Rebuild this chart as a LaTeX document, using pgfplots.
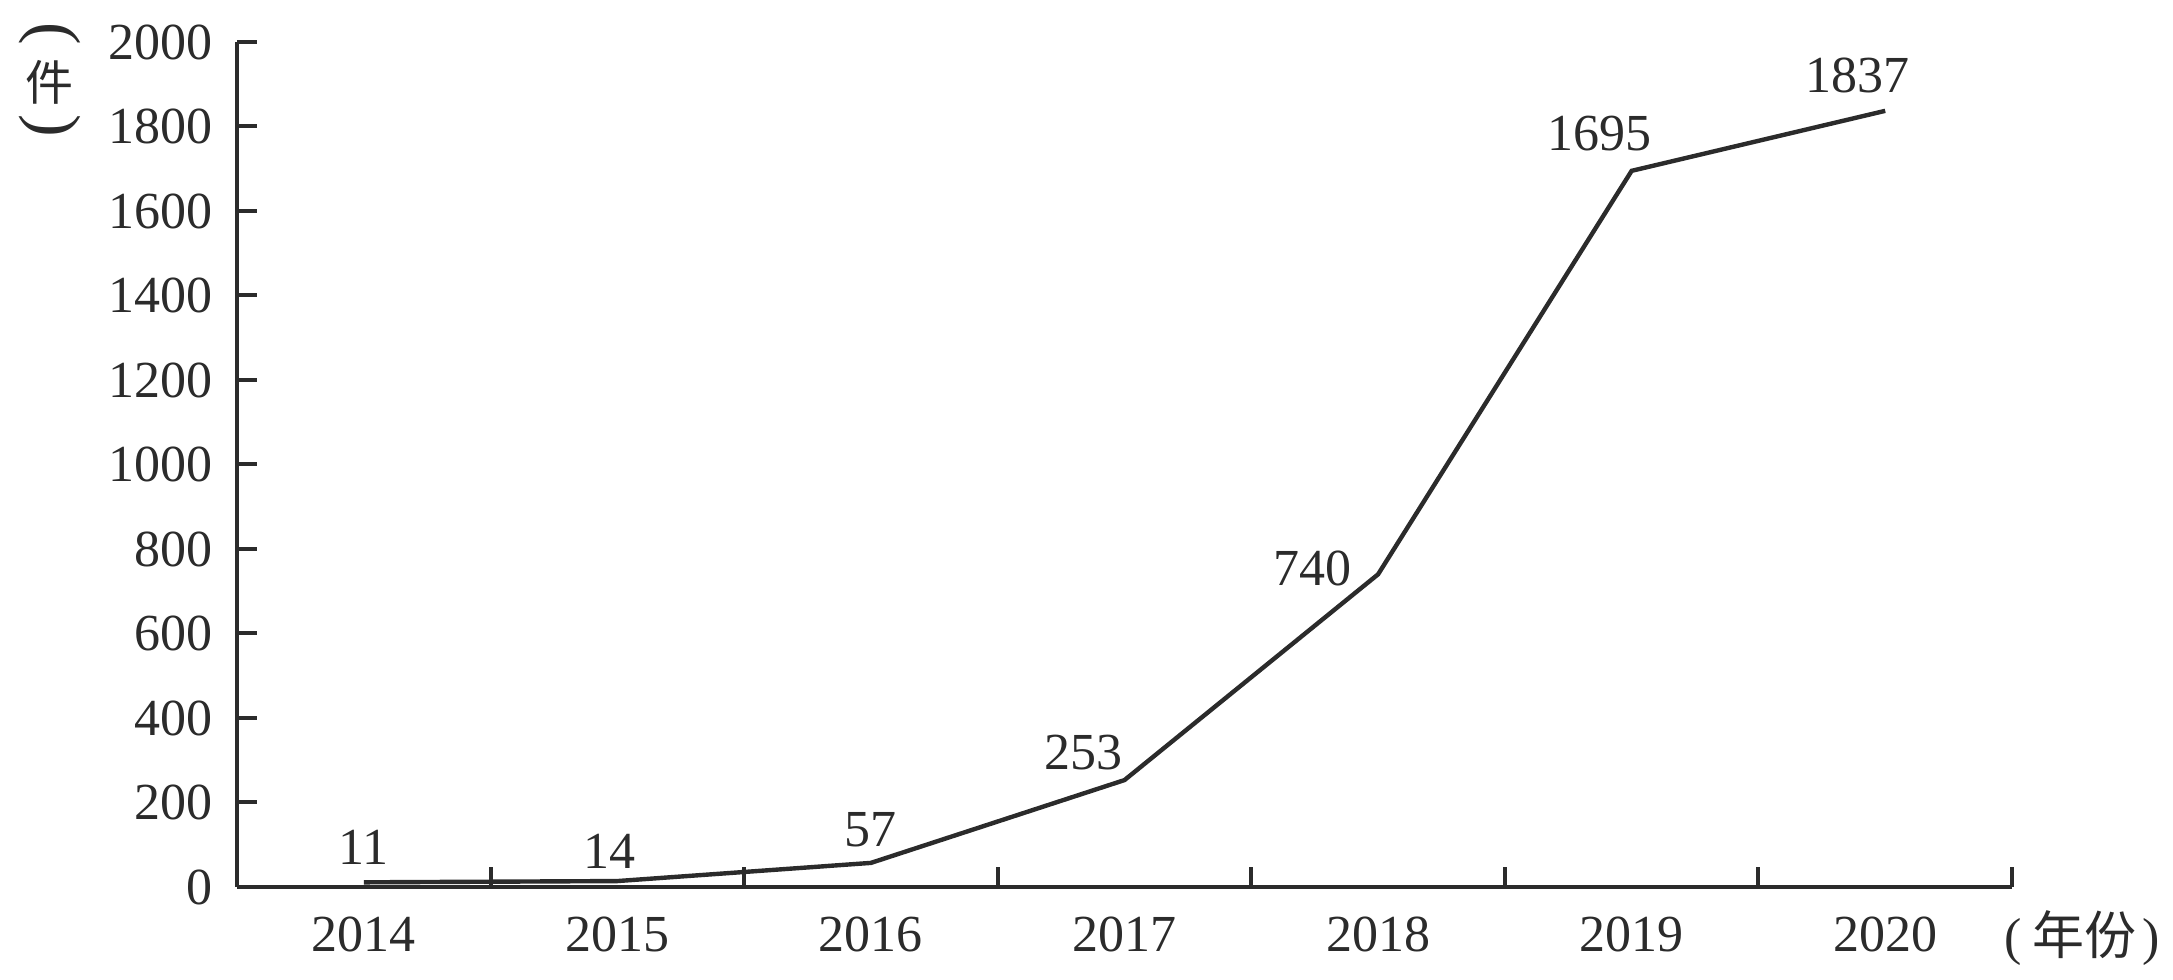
\documentclass[border=0pt]{standalone}
\usepackage{fontspec}
\usepackage{graphicx}
\setmainfont{Liberation Serif}
\newfontfamily\cjk{Noto Sans CJK SC}
\usepackage{pgfplots}
\pgfplotsset{compat=1.18}
\definecolor{ink}{HTML}{2B2B2B}
\begin{document}
\fontsize{13}{15}\selectfont
\begin{tikzpicture}[every node/.style={text=ink}]
\useasboundingbox (-59.25pt,-23.25pt) rectangle (484pt,221.75pt);
\begin{axis}[
  scale only axis, width=443.75pt, height=211.25pt,
  axis lines*=left,
  xmin=-0.5, xmax=6.5, ymin=0, ymax=2000,
  xtick={0,...,6}, xticklabels={2014,2015,2016,2017,2018,2019,2020},
  ytick={0,200,...,2000},
  minor xtick={0.5,1.5,...,6.5},
  tick align=inside,
  major tick length=5pt, minor tick length=5pt,
  major x tick style={draw=none},
  minor x tick style={draw=ink, line width=1pt},
  major y tick style={draw=ink, line width=1pt},
  axis line style={ink, line width=1.1pt},
  tick label style={font=\fontsize{13}{15}\selectfont, text=ink},
  /pgf/number format/assume math mode=true,
  /pgf/number format/1000 sep={},
  xticklabel style={yshift=-3pt},
  yticklabel style={xshift=-1.5pt},
  clip=false,
]
\addplot[ink, line width=1.1pt] coordinates {(0,11)(1,14)(2,57)(3,253)(4,740)(5,1695)(6,1837)};
\node[anchor=south, yshift=0pt] at (axis cs:0,11) {11};
\node[anchor=south, yshift=-1.5pt, xshift=-2pt] at (axis cs:1,14) {14};
\node[anchor=south, yshift=-0.5pt] at (axis cs:2,57) {57};
\node[anchor=south east, yshift=-2pt, xshift=4pt] at (axis cs:3,253) {253};
\node[anchor=east, yshift=1.5pt, xshift=-2pt] at (axis cs:4,740) {740};
\node[anchor=south, yshift=0.5pt, xshift=-8pt] at (axis cs:5,1695) {1695};
\node[anchor=south, yshift=0pt, xshift=-7pt] at (axis cs:6,1837) {1837};
\node[anchor=base west, inner sep=0pt, xshift=-2pt, yshift=-17pt] at (rel axis cs:1,0) {(\hspace{2.5pt}{\cjk 年份}\hspace{1.5pt})};
\end{axis}
\node[inner sep=0pt] at (-46.75pt,213.25pt) {\rotatebox{-90}{\fontsize{17}{17}\selectfont (}};
\node[inner sep=0pt, font=\cjk\fontsize{12}{14}\selectfont] at (-46.75pt,201.25pt) {件};
\node[inner sep=0pt] at (-46.75pt,190.25pt) {\rotatebox{-90}{\fontsize{17}{17}\selectfont )}};
\end{tikzpicture}
\end{document}
